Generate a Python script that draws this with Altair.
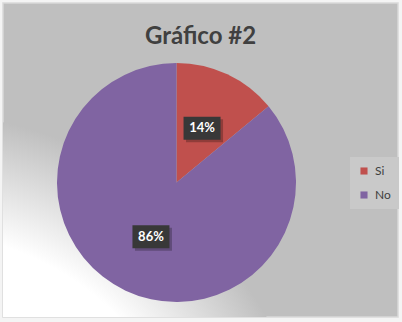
import altair as alt
import pandas as pd

categories = ["Si", "No"]
values = [14, 86]
labels = ["14%", "86%"]
colors = ["#C0504D", "#8064A2"]

df = pd.DataFrame({"cat": categories, "value": values, "label": labels, "ord": [0, 1]})

W, H = 395, 314
CX, CY, R = 173.5, 179.5, 119.5
LR = 60  # label radius
GR = 400  # glow radius

glow = alt.Chart(pd.DataFrame({"g": [1]})).mark_point(
    shape="circle", filled=True, size=(2 * GR) ** 2, strokeWidth=0, opacity=1, clip=True,
    fill=alt.Gradient(gradient="radial", x1=0.5, y1=0.5, x2=0.5, y2=0.5, r1=0, r2=0.5,
                      stops=[alt.GradientStop(color="#ffffff", offset=0.0),
                             alt.GradientStop(color="#ffffff", offset=0.7),
                             alt.GradientStop(color="#bfbfbf", offset=1.0)]),
).encode(x=alt.value(-85), y=alt.value(510))

base = alt.Chart(df)

pie = base.mark_arc(outerRadius=R, stroke=None).encode(
    theta=alt.Theta("value:Q", stack=True),
    order=alt.Order("ord:Q"),
    color=alt.Color("cat:N", scale=alt.Scale(domain=categories, range=colors),
                    legend=alt.Legend(title=None, orient="none", legendX=347, legendY=154,
                                      fillColor="#c9c9c9", padding=8, symbolType="square",
                                      symbolSize=50, symbolStrokeWidth=0, labelFontSize=12,
                                      labelColor="#404040", labelFont="Lato", rowPadding=12,
                                      labelOffset=5)),
    x=alt.value(CX), y=alt.value(CY),
)

pos = base.transform_joinaggregate(total="sum(value)").transform_window(
    cum="sum(value)", sort=[alt.SortField("ord")]
).transform_calculate(
    mid="(datum.cum - datum.value/2) / datum.total * 2 * PI",
).transform_calculate(
    px=f"{CX} + {LR} * sin(datum.mid)",
    py=f"{CY} - {LR} * cos(datum.mid)",
).transform_calculate(
    bx1="datum.px - 18.5", bx2="datum.px + 18.5",
    by1="datum.py - 11.5", by2="datum.py + 11.5",
    sx1="datum.px - 16", sx2="datum.px + 21",
    sy1="datum.py - 9", sy2="datum.py + 14",
)

shadow = pos.mark_rect(color="#000000", opacity=0.25).encode(
    x=alt.X("sx1:Q", scale=None), x2="sx2:Q",
    y=alt.Y("sy1:Q", scale=None), y2="sy2:Q",
)
box = pos.mark_rect(color="#383838").encode(
    x=alt.X("bx1:Q", scale=None), x2="bx2:Q",
    y=alt.Y("by1:Q", scale=None), y2="by2:Q",
)
text = pos.mark_text(color="#ffffff", fontSize=13, fontWeight="bold", font="Lato",
                     align="center", baseline="middle").encode(
    x=alt.X("px:Q", scale=None), y=alt.Y("py:Q", scale=None), text="label:N",
)

chart = alt.layer(glow, pie, shadow, box, text).properties(
    width=W, height=H,
    autosize=alt.AutoSizeParams(type="none"),
    padding={"left": 3, "top": 3, "right": 4, "bottom": 5},
    background="#f4f4f4",
    title=alt.TitleParams("Gráfico #2", anchor="middle", font="Lato", fontSize=24,
                          fontWeight="bold", color="#404040", offset=-46, frame="group"),
).configure_view(fill="#bfbfbf", stroke="#d9d9d9", strokeWidth=1.5)

chart.save("out.html", embed_options={"renderer": "svg", "actions": False})
